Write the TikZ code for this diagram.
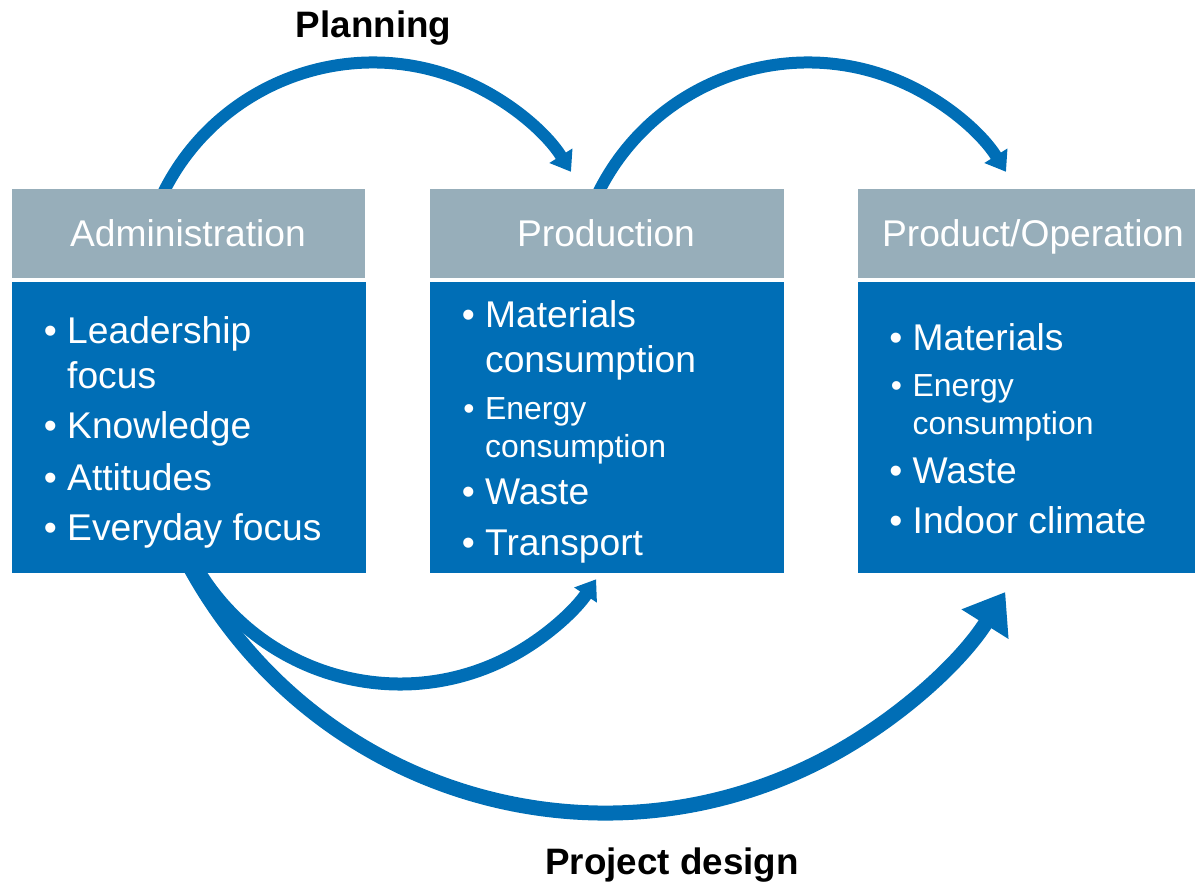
\documentclass[tikz,border=0pt]{standalone}
\usepackage{fontspec}
\setmainfont{Liberation Sans}
\usetikzlibrary{arrows.meta,calc}
\definecolor{hdrgray}{RGB}{151,174,186}
\definecolor{boxblue}{RGB}{0,110,182}
\pgfdeclarelayer{bg}
\pgfsetlayers{bg,main}
\begin{document}
\begin{tikzpicture}[x=1pt,y=1pt,
 panel/.style={rectangle,inner sep=0pt,outer sep=0pt,draw=none},
 hdr/.style={panel,fill=hdrgray,minimum height=89pt},
 body/.style={panel,fill=boxblue,minimum height=291pt},
 htxt/.style={inner sep=0pt,anchor=base,text=white,font=\fontsize{37.2}{44}\selectfont},
 big/.style={inner sep=0pt,anchor=base west,text=white,font=\fontsize{37.2}{44}\selectfont},
 small/.style={inner sep=0pt,anchor=base west,text=white,font=\fontsize{31.9}{38}\selectfont},
 bigdot/.style={inner sep=0pt,anchor=base,text=white,font=\fontsize{37.2}{44}\selectfont},
 smalldot/.style={inner sep=0pt,anchor=base,text=white,font=\fontsize{31.9}{38}\selectfont},
 lbl/.style={inner sep=0pt,anchor=base,text=black,font=\fontsize{36.8}{44}\selectfont\bfseries},
 toparrow/.style={draw=boxblue,line width=12pt,-{Triangle[length=19pt,width=26pt]}},
 innerarrow/.style={draw=boxblue,line width=13pt,-{Triangle[length=19pt,width=26pt]}},
 outerarrow/.style={draw=boxblue,line width=15pt,-{Triangle[length=38pt,width=53pt]}}
]
\useasboundingbox (0,0) rectangle (1195,-882);

% boxes
\node[hdr,minimum width=353pt] (admH) at (188.5,-233.5) {};
\node[body,minimum width=354pt] (admB) at (189,-427.5) {};
\node[hdr,minimum width=354pt] (prodH) at (607,-233.5) {};
\node[body,minimum width=354pt] (prodB) at (607,-427.5) {};
\node[hdr,minimum width=337pt] (opH) at (1026.5,-233.5) {};
\node[body,minimum width=337pt] (opB) at (1026.5,-427.5) {};

% headers
\node[htxt] (admT) at (188,-246.5) {Administration};
\node[htxt] (prodT) at (606,-246.5) {Production};
\node[htxt] (opT) at (1033,-246.5) {Product/Operation};

% Administration list
\node[bigdot] (ad1) at (50.5,-343.5) {•};
\node[big] (a1) at (67,-343.5) {Leadership};
\node[big] (a1b) at (67,-388.5) {focus};
\node[bigdot] (ad2) at (50.5,-438.5) {•};
\node[big] (a2) at (67,-438.5) {Knowledge};
\node[bigdot] (ad3) at (50.5,-490.5) {•};
\node[big] (a3) at (67,-490.5) {Attitudes};
\node[bigdot] (ad4) at (50.5,-540.5) {•};
\node[big] (a4) at (67,-540.5) {Everyday focus};

% Production list
\node[bigdot] (pd1) at (468.5,-327.5) {•};
\node[big] (p1) at (485,-327.5) {Materials};
\node[big] (p1b) at (485,-372.5) {consumption};
\node[smalldot] (pd2) at (469,-419.5) {•};
\node[small] (p2) at (485,-419.5) {Energy};
\node[small] (p2b) at (485,-457.5) {consumption};
\node[bigdot] (pd3) at (468.5,-504.5) {•};
\node[big] (p3) at (485,-504.5) {Waste};
\node[bigdot] (pd4) at (468.5,-555.5) {•};
\node[big] (p4) at (485,-555.5) {Transport};

% Product/Operation list
\node[bigdot] (od1) at (896,-350.5) {•};
\node[big] (o1) at (912.5,-350.5) {Materials};
\node[smalldot] (od2) at (896.5,-396.5) {•};
\node[small] (o2) at (912.5,-396.5) {Energy};
\node[small] (o2b) at (912.5,-434.5) {consumption};
\node[bigdot] (od3) at (896,-483.5) {•};
\node[big] (o3) at (912.5,-483.5) {Waste};
\node[bigdot] (od4) at (896,-533.5) {•};
\node[big] (o4) at (912.5,-533.5) {Indoor climate};

% labels
\node[lbl] (plan) at (373.5,-38) {Planning};
\node[lbl] (pdes) at (672,-874) {Project design};

% arc centres and start points
\coordinate (c1) at (373,-296.5);
\coordinate (c2) at (808,-296.5);
\coordinate (c3) at (400,-448);
\coordinate (c4) at (605,-340);
\coordinate (s1) at ($(c1)+(155.6:234)$);
\coordinate (s2) at ($(c2)+(155.6:234)$);
\coordinate (s3) at ($(c3)+(209.7:236)$);
\coordinate (s4) at ($(c4)+(208.4:473)$);

\begin{pgfonlayer}{bg}
\draw[toparrow] (s1) arc[start angle=155.6,end angle=32.2,radius=234];
\draw[toparrow] (s2) arc[start angle=155.6,end angle=32.2,radius=234];
\draw[outerarrow] (s4) arc[start angle=208.4,end angle=327.8,radius=473];
\draw[innerarrow] (s3) arc[start angle=209.7,end angle=326.2,radius=236];
\end{pgfonlayer}
\end{tikzpicture}
\end{document}
